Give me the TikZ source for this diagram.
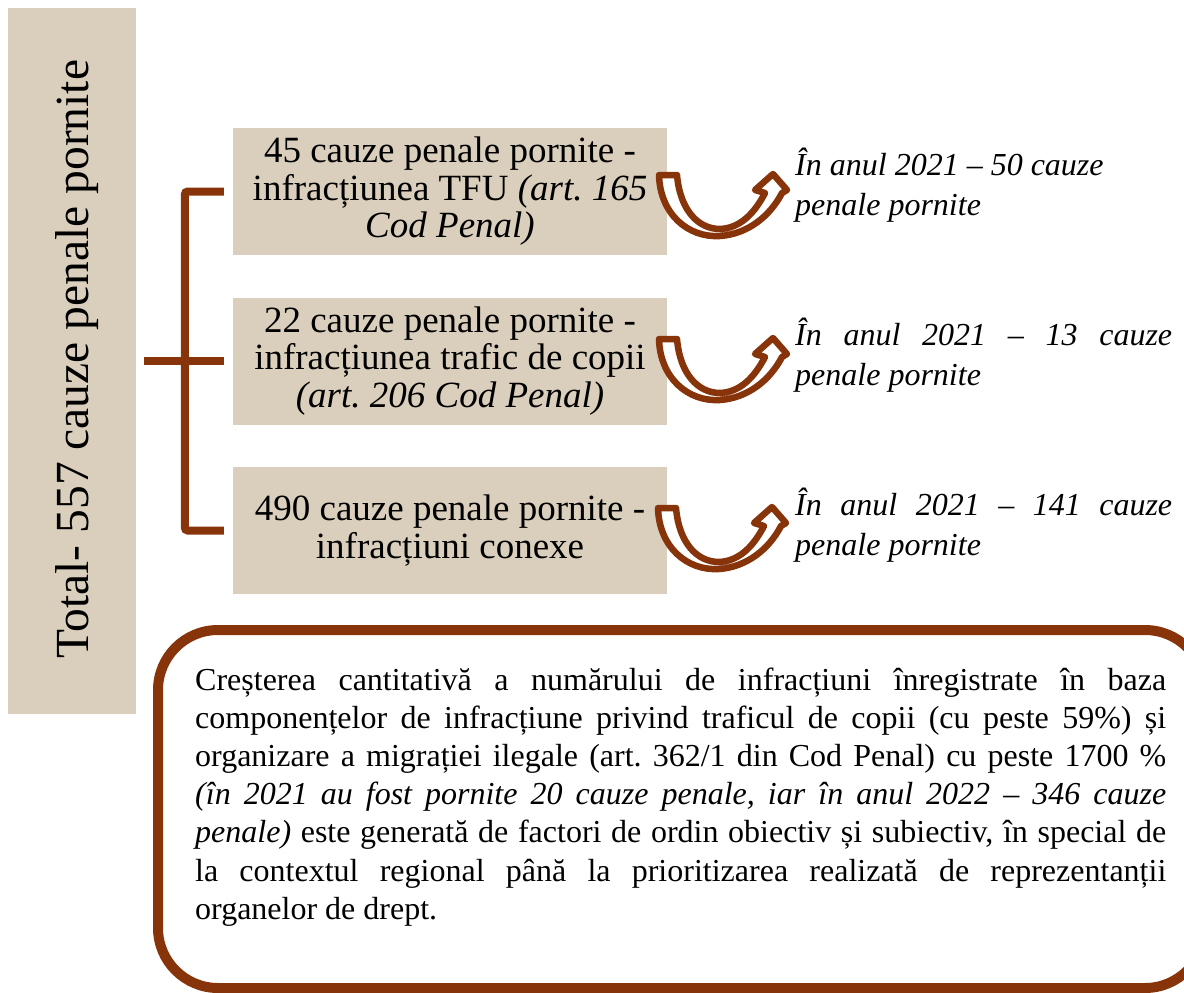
\documentclass[tikz,border=0pt]{standalone}
\usepackage{fontspec}
\setmainfont{Liberation Serif}
\definecolor{brn}{RGB}{135,52,10}
\definecolor{beigebox}{RGB}{218,207,188}
\begin{document}
\frenchspacing
\begin{tikzpicture}[x=1pt,y=-1pt,
  catbox/.style={fill=beigebox, minimum width=434pt, minimum height=127pt, inner sep=0pt,
    align=center, font=\fontsize{37}{37.5}\selectfont\frenchspacing},
  rtext/.style={anchor=base west, inner sep=0pt, text width=377pt, align=justify,
    font=\fontsize{32}{40}\selectfont\itshape},
  bracket/.style={draw=brn, line width=8pt, rounded corners=3pt},
  uarrow/.style={draw=brn, fill=white, line width=6.5pt, line join=round}]
\useasboundingbox (0,0) rectangle (1184,993);

% left total box
\node[fill=beigebox, rotate=90, minimum width=706pt, minimum height=128pt, inner sep=0pt] (totalbox) at (72,361) {};
\node[rotate=90, inner sep=0pt, font=\fontsize{47.5}{50}\selectfont] (total) at (77,359) {Total- 557 cauze penale pornite};

% category boxes
\node[catbox] (b1) at (450,191.5) {45 cauze penale pornite -\\infracțiunea TFU \textit{(art. 165}\\\textit{Cod Penal)}};
\node[catbox] (b2) at (450,361) {22 cauze penale pornite -\\infracțiunea trafic de copii\\\textit{(art. 206 Cod Penal)}};
\node[catbox] (b3) at (450,530.5) {490 cauze penale pornite -\\infracțiuni conexe};

% bracket
\draw[bracket] ([xshift=-9pt]b1.west) -- ++(-39,0) |- ([xshift=-9pt]b3.west);
\draw[bracket] ([xshift=8pt]totalbox.south) -- ([xshift=-9pt]b2.west);

% U-turn arrows
\foreach \ox/\oy in {656/172, 656/336, 655/505}{
  \begin{scope}[shift={(\ox,\oy)}]
    \draw[uarrow] (3,3) .. controls (4,42) and (32,66) .. (64,64)
      .. controls (92,62) and (114,44) .. (126,21) -- (131,18) -- (117,2) -- (99,18) -- (109,21)
      .. controls (98,42) and (84,56) .. (64,57)
      .. controls (42,57) and (24,38) .. (21,3) -- cycle;
  \end{scope}
}

% right texts
\node[rtext] (r1) at (795,175) {În anul 2021 – 50 cauze\\penale pornite};
\node[rtext] (r2) at (795,345) {În anul 2021 – 13 cauze\linebreak penale pornite};
\node[rtext] (r3) at (795,515) {În anul 2021 – 141 cauze\linebreak penale pornite};

% bottom note
\node[draw=brn, line width=10pt, rounded corners=60pt, minimum width=1047pt, minimum height=358pt, inner sep=0pt] (notebox) at (681.5,809) {};
\node[anchor=base west, inner sep=0pt, text width=971pt, align=justify, font=\fontsize{32}{38.2}\selectfont\frenchspacing] (para) at (195,690)
 {Creșterea cantitativă a numărului de infracțiuni înregistrate în baza\linebreak
  componențelor de infracțiune privind traficul de copii (cu peste 59\%) și\linebreak
  organizare a migrației ilegale (art. 362/1 din Cod Penal) cu peste 1700 \%\linebreak
  \textit{(în 2021 au fost pornite 20 cauze penale, iar în anul 2022 – 346 cauze}\linebreak
  \textit{penale)} este generată de factori de ordin obiectiv și subiectiv, în special de\linebreak
  la contextul regional până la prioritizarea realizată de reprezentanții\linebreak
  organelor de drept.};
\end{tikzpicture}
\end{document}
